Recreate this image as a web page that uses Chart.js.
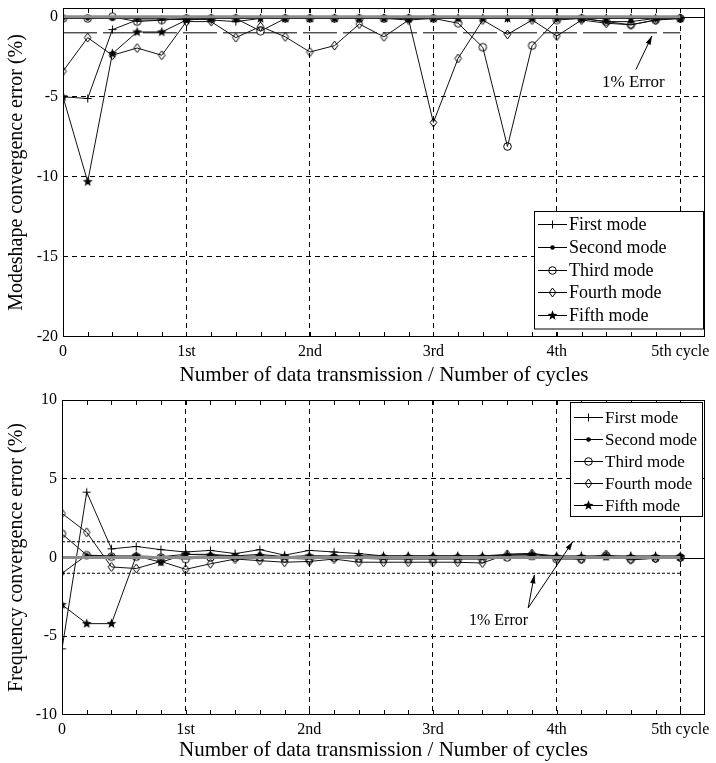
<!DOCTYPE html>
<html>
<head>
<meta charset="utf-8">
<script src="https://cdn.jsdelivr.net/npm/chart.js@4.4.0/dist/chart.umd.min.js"></script>
<style>
html, body { margin: 0; padding: 0; background: #fff; }
canvas { display: block; }
</style>
</head>
<body>
<canvas id="shapeChart" width="716" height="390"></canvas>
<canvas id="freqChart" width="716" height="373"></canvas>
<script>
// sample positions (0.2 cycle per data transmission)
const xs = [0, 0.2, 0.4, 0.6, 0.8, 1, 1.2, 1.4, 1.6, 1.8, 2, 2.2, 2.4, 2.6, 2.8, 3, 3.2, 3.4, 3.6, 3.8, 4, 4.2, 4.4, 4.6, 4.8, 5];
const cycleLabels = ['0', '1st', '2nd', '3rd', '4th', '5th cycle'];
const modeNames = ['First mode', 'Second mode', 'Third mode', 'Fourth mode', 'Fifth mode'];

// modeshape convergence error (%)
const shapeFirst  = [-5.0, -5.1, -0.8, -0.2, -0.2, -0.1, -0.2, -0.3, -0.1, -0.1, -0.1, -0.1, -0.1, -0.1, -0.1, -0.1, -0.1, -0.1, -0.1, -0.1, -0.1, -0.1, -0.1, -0.1, -0.1, -0.1];
const shapeSecond = [-0.1, -0.1, -0.1, -0.1, -0.1, -0.2, -0.1, -0.1, -0.1, -0.1, -0.1, -0.1, -0.1, -0.1, -0.2, -0.1, -0.1, -0.1, -0.1, -0.1, -0.1, -0.1, -0.3, -0.3, -0.1, -0.1];
const shapeThird  = [-0.1, -0.1, 0, -0.3, -0.2, -0.1, -0.1, -0.1, -0.9, -0.1, -0.1, -0.1, -0.1, -0.1, -0.1, -0.1, -0.4, -1.9, -8.1, -1.8, -0.2, -0.1, -0.3, -0.5, -0.2, -0.1];
const shapeFourth = [-3.4, -1.3, -2.4, -1.95, -2.4, -0.3, -0.3, -1.3, -0.6, -1.25, -2.2, -1.8, -0.45, -1.25, -0.2, -6.6, -2.6, -0.2, -1.1, -0.2, -1.2, -0.2, -0.4, -0.5, -0.2, -0.1];
const shapeFifth  = [-5.0, -10.3, -2.3, -0.95, -0.95, -0.2, -0.1, -0.1, -0.1, -0.1, -0.1, -0.1, -0.1, -0.1, -0.1, -0.1, -0.1, -0.1, -0.1, -0.1, -0.1, -0.1, -0.1, -0.1, -0.1, -0.1];
const shapeTicks = [-20, -15, -10, -5, 0];
const shapeErrorLines = [-1];

// frequency convergence error (%)
const freqFirst  = [-5.8, 4.15, 0.55, 0.7, 0.5, 0.35, 0.45, 0.25, 0.5, 0.15, 0.45, 0.35, 0.25, 0.1, 0.1, 0.1, 0.1, 0.1, 0.2, 0.25, 0.1, 0.1, 0.1, 0.1, 0.1, 0.1];
const freqSecond = [-1.0, 0.15, 0.1, 0.1, 0.05, 0.2, 0.2, 0.1, 0.2, 0.05, 0.1, 0.1, 0.1, 0.1, 0.1, 0.1, 0.1, 0.1, 0.15, 0.2, 0.05, 0.05, 0.1, 0.05, 0.05, 0.05];
const freqThird  = [1.5, 0.15, 0.05, 0.05, 0, -0.1, 0, 0, 0, -0.05, -0.1, 0, -0.05, -0.1, -0.1, -0.1, -0.1, -0.1, 0, 0.1, -0.1, -0.1, 0.1, -0.1, -0.05, 0];
const freqFourth = [2.8, 1.6, -0.6, -0.7, -0.25, -0.75, -0.4, -0.1, -0.2, -0.3, -0.25, -0.1, -0.3, -0.3, -0.3, -0.3, -0.3, -0.35, 0.2, 0.25, 0, -0.1, 0.2, -0.15, -0.05, 0];
const freqFifth  = [-3.0, -4.2, -4.2, 0.1, -0.3, 0.2, 0.15, 0.05, 0.1, 0.05, 0.1, 0.05, 0.05, 0.05, 0.05, 0.05, 0.05, 0.05, 0.1, 0.1, 0.05, 0.05, 0.05, 0.05, 0.05, 0.05];
const freqTicks = [-10, -5, 0, 5, 10];
const freqErrorLines = [1, -1];

const SERIF = '"Liberation Serif", "Times New Roman", serif';

// marker sprites, also reused by the legend
function makeMarker(kind) {
  const c = document.createElement('canvas');
  c.width = 13; c.height = 13;
  const g = c.getContext('2d');
  const m = 6.5;
  g.strokeStyle = '#000'; g.fillStyle = '#000'; g.lineWidth = 1;
  g.beginPath();
  if (kind === 'plus') {
    g.moveTo(m - 4, m); g.lineTo(m + 4, m);
    g.moveTo(m, m - 4); g.lineTo(m, m + 4);
    g.stroke();
  } else if (kind === 'dot') {
    g.arc(m, m, 2.3, 0, Math.PI * 2); g.fill();
  } else if (kind === 'circle') {
    g.arc(m, m, 3.8, 0, Math.PI * 2); g.stroke();
  } else if (kind === 'diamond') {
    g.moveTo(m, m - 4.5); g.lineTo(m + 3.3, m); g.lineTo(m, m + 4.5); g.lineTo(m - 3.3, m);
    g.closePath(); g.stroke();
  } else if (kind === 'star') {
    for (let k = 0; k < 10; k++) {
      const r = k % 2 ? 2.2 : 5.2;
      const a = -Math.PI / 2 + k * Math.PI / 5;
      g.lineTo(m + r * Math.cos(a), m + r * Math.sin(a));
    }
    g.closePath(); g.fill();
  }
  return c;
}
const markers = ['plus', 'dot', 'circle', 'diamond', 'star'].map(makeMarker);

function toPoints(vals) {
  return vals.map((v, i) => ({ x: xs[i], y: v }));
}

function modeDatasets(series) {
  return series.map((vals, i) => ({
    label: modeNames[i],
    data: toPoints(vals),
    borderColor: '#111',
    borderWidth: 1,
    pointStyle: markers[i],
    pointRadius: 4,
    tension: 0
  }));
}

function refLine(y, opts) {
  return Object.assign({
    data: [{ x: xs[0], y: y }, { x: xs[xs.length - 1], y: y }],
    borderColor: '#000',
    borderWidth: 1,
    pointRadius: 0,
    tension: 0
  }, opts);
}

// frame, minor ticks and zero line
const framePlugin = {
  id: 'frame',
  beforeDatasetsDraw(chart) {
    const { ctx, chartArea: a, scales: { y } } = chart;
    const py = Math.round(y.getPixelForValue(0)) + 0.5;
    ctx.save();
    ctx.strokeStyle = '#000'; ctx.lineWidth = 1;
    ctx.beginPath(); ctx.moveTo(a.left, py); ctx.lineTo(a.right, py); ctx.stroke();
    ctx.restore();
  },
  afterDatasetsDraw(chart) {
    const { ctx, chartArea: a, scales: { x } } = chart;
    ctx.save();
    ctx.strokeStyle = '#000'; ctx.lineWidth = 1;
    ctx.strokeRect(Math.round(a.left) + 0.5, Math.round(a.top) + 0.5, Math.round(a.width) - 1, Math.round(a.height) - 1);
    ctx.beginPath();
    xs.forEach(v => {
      const px = Math.round(x.getPixelForValue(v)) + 0.5;
      ctx.moveTo(px, a.top); ctx.lineTo(px, a.top + 5);
      ctx.moveTo(px, a.bottom); ctx.lineTo(px, a.bottom - 5);
    });
    ctx.stroke();
    ctx.restore();
  }
};

// "1% Error" note with arrows
const notePlugin = {
  id: 'note',
  afterDatasetsDraw(chart, args, o) {
    if (!o.text) return;
    const { ctx, scales: { x, y } } = chart;
    ctx.save();
    ctx.fillStyle = '#000'; ctx.strokeStyle = '#000'; ctx.lineWidth = 1;
    ctx.font = o.size + 'px ' + SERIF;
    ctx.textAlign = 'center'; ctx.textBaseline = 'middle';
    ctx.fillText(o.text, x.getPixelForValue(o.at[0]), y.getPixelForValue(o.at[1]));
    o.arrows.forEach(ar => {
      const x1 = x.getPixelForValue(ar[0]), y1 = y.getPixelForValue(ar[1]);
      const x2 = x.getPixelForValue(ar[2]), y2 = y.getPixelForValue(ar[3]);
      ctx.beginPath(); ctx.moveTo(x1, y1); ctx.lineTo(x2, y2); ctx.stroke();
      const ang = Math.atan2(y2 - y1, x2 - x1);
      ctx.beginPath();
      ctx.moveTo(x2, y2);
      ctx.lineTo(x2 - 9 * Math.cos(ang - 0.3), y2 - 9 * Math.sin(ang - 0.3));
      ctx.lineTo(x2 - 9 * Math.cos(ang + 0.3), y2 - 9 * Math.sin(ang + 0.3));
      ctx.closePath(); ctx.fill();
    });
    ctx.restore();
  }
};

// boxed legend with line sample and marker
const legendPlugin = {
  id: 'modeLegend',
  afterDraw(chart, args, o) {
    const { ctx, chartArea: a } = chart;
    const items = chart.data.datasets.filter(d => d.label);
    const h = o.rowH * items.length + o.padTop + o.padBottom;
    const x0 = Math.round(a.right - o.right - o.width);
    const y0 = Math.round(o.top != null ? a.top + o.top : a.bottom - o.bottom - h);
    ctx.save();
    ctx.fillStyle = '#fff';
    ctx.fillRect(x0, y0, o.width, h);
    ctx.strokeStyle = '#000'; ctx.lineWidth = 1;
    ctx.strokeRect(x0 + 0.5, y0 + 0.5, o.width, h);
    ctx.font = o.size + 'px ' + SERIF;
    ctx.textBaseline = 'middle'; ctx.fillStyle = '#000';
    items.forEach((d, i) => {
      const cy = Math.round(y0 + o.padTop + o.rowH * (i + 0.5)) + 0.5;
      ctx.beginPath(); ctx.moveTo(x0 + 4, cy); ctx.lineTo(x0 + 33, cy); ctx.stroke();
      const mk = d.pointStyle;
      ctx.drawImage(mk, x0 + 18.5 - mk.width / 2, cy - mk.height / 2);
      ctx.fillText(d.label, x0 + 35, cy + 1);
    });
    ctx.restore();
  }
};

function makeChart(id, cfg) {
  return new Chart(document.getElementById(id), {
    type: 'line',
    data: { datasets: cfg.datasets },
    plugins: [framePlugin, notePlugin, legendPlugin],
    options: {
      responsive: false,
      animation: false,
      layout: { padding: { left: 0, right: 11, top: cfg.top, bottom: 0 } },
      plugins: {
        legend: { display: false },
        tooltip: { enabled: false },
        note: cfg.note,
        modeLegend: cfg.legend
      },
      scales: {
        x: {
          type: 'linear',
          min: 0,
          max: 5.2,
          afterBuildTicks: s => { s.ticks = cycleLabels.map((t, i) => ({ value: i })); },
          afterFit: s => {
            s.height = cfg.xHeight;
            s.paddingLeft = 0; s.paddingRight = 0;
          },
          ticks: {
            callback: v => cycleLabels[v],
            font: { family: SERIF, size: 16 },
            color: '#000',
            padding: 5,
            maxRotation: 0,
            autoSkip: false
          },
          grid: {
            drawTicks: false,
            lineWidth: 1,
            color: c => (c.tick && c.tick.value > 0) ? '#000' : 'rgba(0,0,0,0)'
          },
          border: { display: false, dash: [5, 4] },
          title: {
            display: true,
            text: 'Number of data transmission / Number of cycles',
            font: { family: SERIF, size: 21 },
            color: '#000',
            padding: { top: 0, bottom: cfg.titlePad }
          }
        },
        y: {
          min: cfg.yTicks[0],
          max: cfg.yMax,
          afterBuildTicks: s => { s.ticks = cfg.yTicks.map(v => ({ value: v })); },
          afterFit: s => {
            s.width = cfg.yWidth;
            s.paddingTop = 0; s.paddingBottom = 0;
          },
          ticks: {
            font: { family: SERIF, size: 16 },
            color: '#000',
            padding: 5
          },
          grid: {
            drawTicks: false,
            lineWidth: 1,
            color: c => (c.tick && cfg.yGrid.includes(c.tick.value)) ? '#000' : 'rgba(0,0,0,0)'
          },
          border: { display: false, dash: [5, 4] },
          title: {
            display: true,
            text: cfg.yTitle,
            font: { family: SERIF, size: 20 },
            color: '#000',
            padding: { top: 5, bottom: 0 }
          }
        }
      }
    }
  });
}

makeChart('shapeChart', {
  datasets: [refLine(0, { borderColor: '#8c8c8c', borderWidth: 3 })]
    .concat(modeDatasets([shapeFirst, shapeSecond, shapeThird, shapeFourth, shapeFifth]))
    .concat(shapeErrorLines.map(v => refLine(v, { borderDash: [34, 6] }))),
  top: 8,
  xHeight: 53,
  titlePad: 2,
  yWidth: 63,
  yMax: 0.55,
  yTicks: shapeTicks,
  yGrid: [-15, -10, -5],
  yTitle: 'Modeshape convergence error (%)',
  note: { text: '1% Error', size: 17, at: [4.62, -4.1], arrows: [[4.64, -3.3, 4.77, -1.2]] },
  legend: { right: 2, bottom: 9, width: 169, rowH: 22.7, padTop: 2, padBottom: 2, size: 18 }
});

makeChart('freqChart', {
  datasets: [refLine(0, { borderColor: '#8c8c8c', borderWidth: 3 })]
    .concat(modeDatasets([freqFirst, freqSecond, freqThird, freqFourth, freqFifth]))
    .concat(freqErrorLines.map(v => refLine(v, { borderDash: [3, 2] }))),
  top: 10,
  xHeight: 48,
  titlePad: 0,
  yWidth: 62,
  yMax: freqTicks[freqTicks.length - 1],
  yTicks: freqTicks,
  yGrid: [-5, 5],
  yTitle: 'Frequency convergence error (%)',
  note: { text: '1% Error', size: 16, at: [3.53, -4.0], arrows: [[3.77, -3.2, 3.82, -1.1], [3.77, -3.2, 4.13, 1.0]] },
  legend: { right: 3, top: 2, width: 132, rowH: 22, padTop: 4, padBottom: 0, size: 17 }
});
</script>
</body>
</html>
